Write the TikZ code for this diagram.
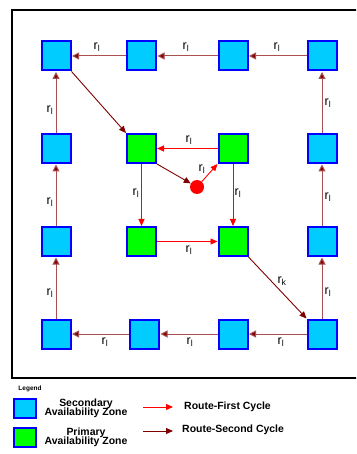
\documentclass[tikz,border=0pt]{standalone}
\usepackage{fontspec}
\setmainfont{Liberation Sans}
\usetikzlibrary{arrows.meta}
\definecolor{zcyan}{RGB}{0,204,255}
\definecolor{zgreen}{RGB}{0,255,0}
\definecolor{zblue}{RGB}{0,0,255}
\definecolor{dred}{RGB}{128,0,0}
\definecolor{dline}{RGB}{170,80,80}
\definecolor{zred}{RGB}{255,0,0}
\tikzset{
  zone/.style={draw=zblue, line width=2bp, minimum width=29bp, minimum height=29bp, inner sep=0pt},
  sec/.style={zone, fill=zcyan},
  pri/.style={zone, fill=zgreen},
  second/.style={draw=dline, line width=1bp, -{Triangle[length=7bp,width=7bp,fill=dred]}, shorten >=0.5bp},
  seconddiag/.style={draw=dred, line width=0.9bp, -{Triangle[length=7bp,width=6bp,fill=dred]}},
  first/.style={draw=zred, line width=0.9bp, -{Triangle[length=7bp,width=6bp,fill=zred]}},
  lab/.style={font=\fontsize{12.5}{13}\selectfont, inner sep=0pt},
  leg/.style={font=\fontsize{10.5}{11}\selectfont\bfseries, inner sep=0pt, align=center}
}
\newcommand{\rl}{r\textsubscript{l}}
\newcommand{\rk}{r\textsubscript{k}}
\begin{document}
\begin{tikzpicture}[x=1bp,y=-1bp]
\useasboundingbox (0,0) rectangle (356,454);
\fill[white] (0,0) rectangle (356,454);
\begin{scope}
\clip (0,0) rectangle (356,454);
\draw[line width=2bp, black] (11.5,10) rectangle (362,378);
\end{scope}
% outer secondary zones
\node[sec] (a1) at (56,56) {};
\node[sec] (a2) at (141.5,56) {};
\node[sec] (a3) at (233,56) {};
\node[sec] (a4) at (322,56) {};
\node[sec] (l2) at (56,148.5) {};
\node[sec] (l3) at (56,241.5) {};
\node[sec] (r2) at (322,148.5) {};
\node[sec] (r3) at (322,241.5) {};
\node[sec] (b1) at (56,334) {};
\node[sec] (b2) at (144.5,334) {};
\node[sec] (b3) at (233,334) {};
\node[sec] (b4) at (322,334) {};
% primary zones
\node[pri] (g1) at (141.5,148.5) {};
\node[pri] (g2) at (233,148.5) {};
\node[pri] (g3) at (141.5,241.5) {};
\node[pri] (g4) at (233,241.5) {};
\node[circle, fill=zred, minimum size=14bp, inner sep=0pt] (c) at (197,187) {};
% second cycle outer
\draw[second] (a4) -- (a3);
\draw[second] (a3) -- (a2);
\draw[second] (a2) -- (a1);
\draw[second] (b4) -- (b3);
\draw[second] (b3) -- (b2);
\draw[second] (b2) -- (b1);
\draw[second] (b1) -- (l3);
\draw[second] (l3) -- (l2);
\draw[second] (l2) -- (a1);
\draw[second] (b4) -- (r3);
\draw[second] (r3) -- (r2);
\draw[second] (r2) -- (a4);
\draw[seconddiag] (a1.south east) -- (g1.north west);
\draw[seconddiag] (g1.south east) -- (c);
\draw[seconddiag] (g4.south east) -- (b4.north west);
% first cycle
\draw[first] (c) -- (g2.south west);
\draw[first] (g2) -- (g1);
\draw[first] (g1) -- (g3);
\draw[first] (g2) -- (g4);
\draw[first] (g3) -- (g4);
% labels
\node[lab] (t1) at (97,47) {\rl};
\node[lab] (t2) at (186,47) {\rl};
\node[lab] (t3) at (277,47) {\rl};
\node[lab] (lf1) at (50,110) {\rl};
\node[lab] (lf2) at (50,202) {\rl};
\node[lab] (lf3) at (50,293) {\rl};
\node[lab] (rt1) at (328,103) {\rl};
\node[lab] (rt2) at (328,197) {\rl};
\node[lab] (rt3) at (328,292) {\rl};
\node[lab] (bt1) at (105,342) {\rl};
\node[lab] (bt2) at (190,342) {\rl};
\node[lab] (bt3) at (281,342) {\rl};
\node[lab] (gt) at (189,140) {\rl};
\node[lab] (gl) at (136,193) {\rl};
\node[lab] (gr) at (238,193) {\rl};
\node[lab] (gb) at (189,250) {\rl};
\node[lab] (gc) at (202,169) {\rl};
\node[lab] (gk) at (282,281) {\rk};
% legend
\node[font=\fontsize{6.5}{7}\selectfont\bfseries, inner sep=0pt] (legt) at (30,389) {Legend};
\node[draw=zblue, line width=2bp, fill=zcyan, minimum width=22bp, minimum height=19bp, inner sep=0pt] (ls) at (25,408) {};
\node[draw=zblue, line width=2bp, fill=zgreen, minimum width=22bp, minimum height=19bp, inner sep=0pt] (lp) at (25,437.5) {};
\node[leg] (lst) at (86,408) {Secondary\\[-2bp]Availability Zone};
\node[leg] (lpt) at (86,437.5) {Primary\\[-2bp]Availability Zone};
\coordinate (fa) at (143,407);
\coordinate (fb) at (173,407);
\coordinate (sa) at (143,431);
\coordinate (sb) at (173,431);
\draw[first] (fa) -- (fb);
\draw[seconddiag] (sa) -- (sb);
\node[leg, anchor=west] (lf) at (184,407) {Route-First Cycle};
\node[leg, anchor=west] (lsc) at (182,430) {Route-Second Cycle};
\end{tikzpicture}
\end{document}
